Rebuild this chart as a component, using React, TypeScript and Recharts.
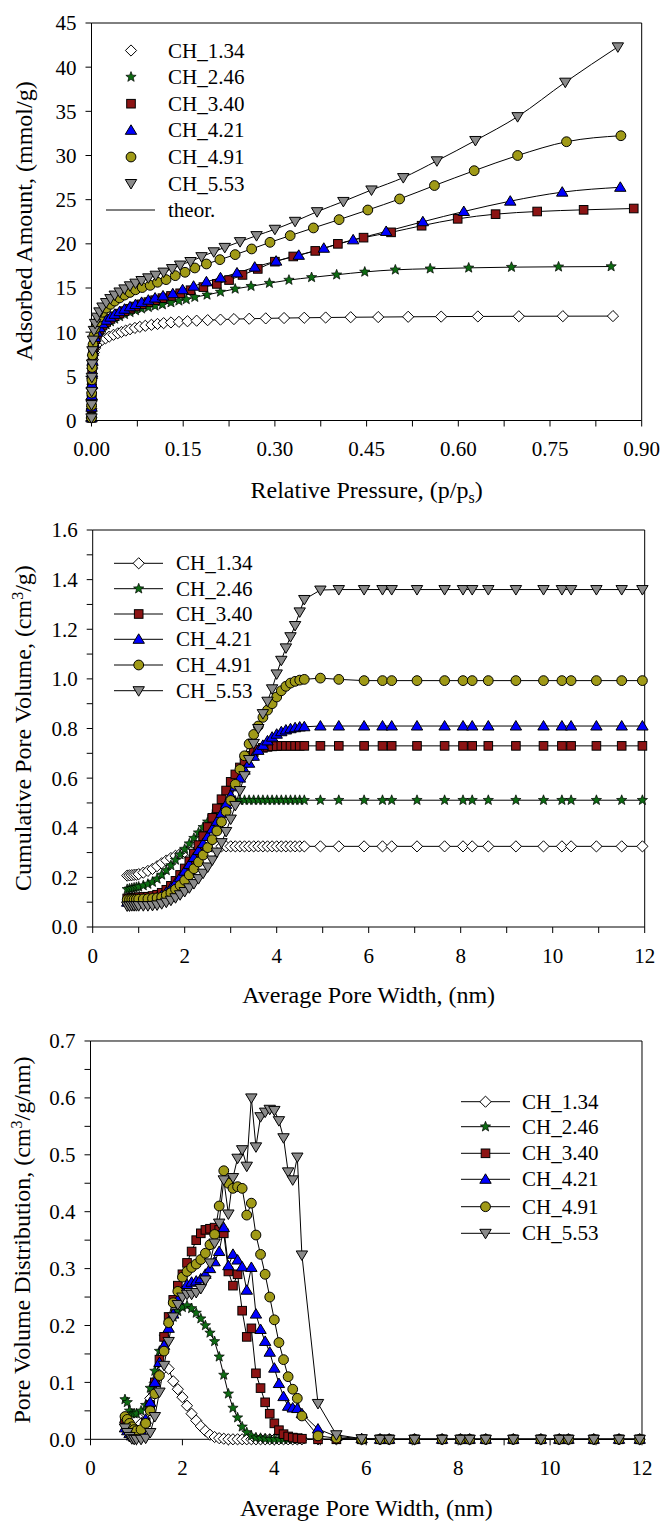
import React from 'react';
import { ComposedChart, Line, XAxis, YAxis } from 'recharts';

const FONT = '"Liberation Serif", "Times New Roman", serif';
const W = 664;

const seriesNames = ['CH_1.34', 'CH_2.46', 'CH_3.40', 'CH_4.21', 'CH_4.91', 'CH_5.53'];

// adsorption isotherms, [relative pressure, adsorbed amount mmol/g]
const iso134: [number, number][] = [
  [0, 0.3], [0.0001, 1.3], [0.0003, 2.4], [0.0006, 3.6], [0.001, 4.8], [0.0016, 5.9], [0.0025, 6.9],
  [0.004, 7.7], [0.006, 8.2], [0.009, 8.6], [0.013, 8.9], [0.018, 9.15], [0.023, 9.3], [0.029, 9.5],
  [0.036, 9.7], [0.043, 9.87], [0.049, 10.02], [0.056, 10.18], [0.063, 10.33], [0.071, 10.48],
  [0.079, 10.6], [0.088, 10.72], [0.098, 10.83], [0.108, 10.93], [0.118, 11.02], [0.13, 11.1],
  [0.143, 11.17], [0.157, 11.24], [0.172, 11.3], [0.19, 11.36], [0.211, 11.42], [0.233, 11.48],
  [0.258, 11.52], [0.285, 11.56], [0.315, 11.6], [0.348, 11.63], [0.383, 11.66], [0.424, 11.69],
  [0.469, 11.71], [0.518, 11.74], [0.572, 11.76], [0.632, 11.78], [0.699, 11.8], [0.771, 11.81],
  [0.853, 11.82],
];
const iso246: [number, number][] = [
  [0, 0.3], [0.0001, 1.4], [0.0003, 2.6], [0.0006, 3.9], [0.001, 5.1], [0.0016, 6.3], [0.0025, 7.4],
  [0.004, 8.3], [0.006, 9.0], [0.009, 9.6], [0.013, 10.1], [0.018, 10.5], [0.024, 10.85],
  [0.031, 11.2], [0.038, 11.5], [0.046, 11.78], [0.054, 12.02], [0.063, 12.25], [0.072, 12.45],
  [0.082, 12.65], [0.093, 12.82], [0.104, 12.98], [0.116, 13.12], [0.13, 13.35], [0.143, 13.55],
  [0.155, 13.7], [0.169, 13.96], [0.189, 14.22], [0.211, 14.55], [0.235, 14.9], [0.261, 15.2],
  [0.291, 15.55], [0.323, 15.9], [0.36, 16.2], [0.401, 16.5], [0.447, 16.82], [0.497, 17.06],
  [0.554, 17.18], [0.617, 17.28], [0.687, 17.36], [0.764, 17.4], [0.85, 17.43],
];
const iso340: [number, number][] = [
  [0, 0.3], [0.0001, 1.4], [0.0003, 2.7], [0.0006, 4.0], [0.001, 5.3], [0.0016, 6.5], [0.0025, 7.6],
  [0.004, 8.5], [0.006, 9.2], [0.009, 9.8], [0.013, 10.3], [0.018, 10.75], [0.024, 11.15],
  [0.031, 11.5], [0.038, 11.8], [0.046, 12.1], [0.054, 12.38], [0.063, 12.65], [0.072, 12.9],
  [0.082, 13.15], [0.093, 13.4], [0.104, 13.62], [0.116, 13.85], [0.13, 14.1], [0.145, 14.4],
  [0.162, 14.75], [0.183, 15.1], [0.205, 15.46], [0.225, 15.9], [0.247, 16.48], [0.272, 17.16],
  [0.3, 17.98], [0.33, 18.57], [0.366, 19.2], [0.403, 20.0], [0.445, 20.7], [0.49, 21.3],
  [0.54, 22.05], [0.599, 22.83], [0.661, 23.36], [0.729, 23.66], [0.805, 23.85], [0.887, 24.0],
];
const iso421: [number, number][] = [
  [0, 0.3], [0.0001, 1.5], [0.0003, 2.8], [0.0006, 4.1], [0.001, 5.4], [0.0016, 6.7], [0.0025, 7.8],
  [0.004, 8.7], [0.006, 9.4], [0.009, 10.0], [0.013, 10.5], [0.018, 10.95], [0.024, 11.35],
  [0.031, 11.7], [0.038, 12.02], [0.046, 12.32], [0.054, 12.6], [0.063, 12.87], [0.072, 13.12],
  [0.082, 13.37], [0.093, 13.62], [0.104, 13.86], [0.117, 14.1], [0.133, 14.35], [0.149, 14.8],
  [0.167, 15.2], [0.188, 15.7], [0.211, 16.15], [0.238, 16.7], [0.267, 17.36], [0.302, 18.04],
  [0.339, 18.7], [0.38, 19.5], [0.428, 20.45], [0.482, 21.4], [0.542, 22.5], [0.609, 23.66],
  [0.685, 24.83], [0.77, 25.85], [0.865, 26.4],
];
const iso491: [number, number][] = [
  [0, 0.3], [0.0001, 1.7], [0.0003, 3.1], [0.0006, 4.6], [0.001, 6.0], [0.0016, 7.4], [0.0025, 8.6],
  [0.004, 9.6], [0.006, 10.4], [0.009, 11.1], [0.013, 11.7], [0.018, 12.25], [0.024, 12.72],
  [0.031, 13.15], [0.038, 13.52], [0.046, 13.88], [0.054, 14.2], [0.063, 14.5], [0.072, 14.8],
  [0.083, 15.05], [0.096, 15.3], [0.108, 15.65], [0.122, 15.95], [0.137, 16.4], [0.153, 16.78],
  [0.169, 17.27], [0.188, 17.72], [0.21, 18.21], [0.235, 18.78], [0.262, 19.42], [0.292, 20.17],
  [0.325, 20.93], [0.363, 21.8], [0.405, 22.74], [0.452, 23.83], [0.504, 25.08], [0.561, 26.6],
  [0.626, 28.28], [0.697, 30.0], [0.777, 31.56], [0.866, 32.24],
];
const iso553: [number, number][] = [
  [0, 0.3], [0.0001, 1.8], [0.0003, 3.3], [0.0006, 4.9], [0.001, 6.4], [0.0016, 7.9], [0.0025, 9.1],
  [0.004, 10.2], [0.006, 11.0], [0.009, 11.7], [0.013, 12.3], [0.018, 12.85], [0.024, 13.35],
  [0.031, 13.8], [0.038, 14.2], [0.046, 14.55], [0.054, 14.9], [0.063, 15.25], [0.072, 15.55],
  [0.082, 15.85], [0.093, 16.15], [0.105, 16.45], [0.118, 16.8], [0.132, 17.2], [0.145, 17.6],
  [0.162, 18.0], [0.18, 18.55], [0.2, 19.1], [0.218, 19.6], [0.243, 20.25], [0.27, 20.93],
  [0.3, 21.65], [0.333, 22.55], [0.369, 23.64], [0.412, 24.8], [0.458, 26.1], [0.51, 27.5],
  [0.565, 29.4], [0.628, 31.7], [0.697, 34.4], [0.775, 38.3], [0.861, 42.3],
];

// pore width grid (nm) shared by the cumulative volume and distribution curves
const poreWidth = [
  0.75, 0.8, 0.85, 0.9, 0.95, 1.0,
  1.1, 1.2, 1.3, 1.4, 1.5, 1.6, 1.7, 1.8, 1.9, 2.0,
  2.1, 2.2, 2.3, 2.4, 2.5, 2.6, 2.7, 2.8, 2.9, 3.0,
  3.1, 3.2, 3.3, 3.4, 3.5, 3.6, 3.7, 3.8, 3.9, 4.0,
  4.1, 4.2, 4.3, 4.4, 4.5, 4.6,
  4.95, 5.35, 5.9, 6.3, 6.5, 7.05, 7.65, 8.05, 8.25, 8.6, 9.2, 9.8, 10.2, 10.4, 10.95, 11.5, 11.95,
];

// cumulative pore volume, cm3/g
const cum134 = [
  0.207, 0.208, 0.209, 0.21, 0.211, 0.213,
  0.219, 0.226, 0.234, 0.245, 0.257, 0.268, 0.278, 0.287, 0.295, 0.302,
  0.309, 0.314, 0.318, 0.321, 0.323, 0.324, 0.325, 0.325, 0.325, 0.325,
  0.325, 0.325, 0.325, 0.325, 0.325, 0.325, 0.325, 0.325, 0.325, 0.325,
  0.325, 0.325, 0.325, 0.325, 0.325, 0.325,
  0.325, 0.325, 0.325, 0.325, 0.325, 0.325, 0.325, 0.325, 0.325, 0.325, 0.325, 0.325, 0.325, 0.325, 0.325, 0.325, 0.325,
];
const cum246 = [
  0.152, 0.154, 0.156, 0.158, 0.16, 0.162,
  0.167, 0.173, 0.181, 0.194, 0.21, 0.228, 0.248, 0.27, 0.292, 0.314,
  0.336, 0.358, 0.38, 0.402, 0.424, 0.445, 0.464, 0.481, 0.494, 0.503,
  0.508, 0.51, 0.511, 0.511, 0.511, 0.511, 0.511, 0.511, 0.511, 0.511,
  0.511, 0.511, 0.511, 0.511, 0.511, 0.511,
  0.511, 0.511, 0.511, 0.511, 0.511, 0.511, 0.511, 0.511, 0.511, 0.511, 0.511, 0.511, 0.511, 0.511, 0.511, 0.511, 0.511,
];
const cum340 = [
  0.115, 0.116, 0.117, 0.118, 0.119, 0.12,
  0.121, 0.122, 0.125, 0.13, 0.138, 0.15, 0.166, 0.186, 0.21, 0.236,
  0.265, 0.296, 0.33, 0.366, 0.403, 0.44, 0.478, 0.515, 0.55, 0.585,
  0.615, 0.643, 0.668, 0.69, 0.705, 0.715, 0.722, 0.726, 0.728, 0.729,
  0.73, 0.73, 0.73, 0.73, 0.73, 0.73,
  0.73, 0.73, 0.73, 0.73, 0.73, 0.73, 0.73, 0.73, 0.73, 0.73, 0.73, 0.73, 0.73, 0.73, 0.73, 0.73, 0.73,
];
const cum421 = [
  0.1, 0.101, 0.101, 0.102, 0.102, 0.103,
  0.104, 0.106, 0.11, 0.117, 0.127, 0.14, 0.157, 0.177, 0.2, 0.225,
  0.252, 0.28, 0.308, 0.336, 0.365, 0.395, 0.426, 0.458, 0.494, 0.53,
  0.565, 0.6, 0.632, 0.66, 0.688, 0.712, 0.732, 0.75, 0.765, 0.777,
  0.787, 0.794, 0.799, 0.803, 0.806, 0.807,
  0.81, 0.81, 0.81, 0.81, 0.81, 0.81, 0.81, 0.81, 0.81, 0.81, 0.81, 0.81, 0.81, 0.81, 0.81, 0.81, 0.81,
];
const cum491 = [
  0.11, 0.11, 0.111, 0.111, 0.112, 0.112,
  0.113, 0.114, 0.115, 0.117, 0.12, 0.128, 0.138, 0.152, 0.168, 0.188,
  0.21, 0.235, 0.262, 0.29, 0.32, 0.352, 0.387, 0.424, 0.465, 0.51,
  0.575, 0.635, 0.69, 0.738, 0.776, 0.81, 0.845, 0.874, 0.9, 0.927,
  0.952, 0.97, 0.983, 0.99, 0.995, 0.998,
  1.003, 0.998, 0.993, 0.993, 0.993, 0.993, 0.993, 0.993, 0.993, 0.993, 0.993, 0.993, 0.993, 0.993, 0.993, 0.993, 0.993,
];
const cum553 = [
  0.085, 0.085, 0.086, 0.086, 0.086, 0.086,
  0.086, 0.086, 0.087, 0.089, 0.094, 0.1, 0.108, 0.118, 0.13, 0.143,
  0.158, 0.175, 0.195, 0.217, 0.242, 0.27, 0.302, 0.34, 0.385, 0.435,
  0.49, 0.55, 0.61, 0.675, 0.74, 0.8, 0.86, 0.91, 0.96, 1.02,
  1.075, 1.125, 1.17, 1.215, 1.27, 1.32,
  1.358, 1.36, 1.36, 1.36, 1.36, 1.36, 1.36, 1.36, 1.36, 1.36, 1.36, 1.36, 1.36, 1.36, 1.36, 1.36, 1.36,
];

// pore volume distribution, cm3/g/nm
const psd134 = [
  0.03, 0.025, 0.018, 0.012, 0.012, 0.015,
  0.028, 0.045, 0.072, 0.1, 0.118, 0.125, 0.124, 0.102, 0.088, 0.074,
  0.059, 0.045, 0.033, 0.023, 0.015, 0.008, 0.004, 0.002, 0.001, 0,
  0, 0, 0, 0, 0, 0, 0, 0, 0, 0,
  0, 0, 0, 0, 0, 0,
  0, 0, 0, 0, 0, 0, 0, 0, 0, 0, 0, 0, 0, 0, 0, 0, 0,
];
const psd246 = [
  0.07, 0.065, 0.05, 0.045, 0.045, 0.045,
  0.05, 0.06, 0.09, 0.12, 0.155, 0.18, 0.2, 0.215, 0.225, 0.232,
  0.235, 0.23, 0.222, 0.212, 0.2, 0.187, 0.172, 0.145, 0.113, 0.08,
  0.055, 0.038, 0.022, 0.012, 0.006, 0.003, 0.002, 0.001, 0, 0,
  0, 0, 0, 0, 0, 0,
  0, 0, 0, 0, 0, 0, 0, 0, 0, 0, 0, 0, 0, 0, 0, 0, 0,
];
const psd340 = [
  0.035, 0.03, 0.02, 0.012, 0.008, 0.006,
  0.01, 0.03, 0.06, 0.1, 0.14, 0.18, 0.215, 0.245, 0.27, 0.29,
  0.31, 0.33, 0.35, 0.362, 0.368, 0.37, 0.372, 0.368, 0.362, 0.295,
  0.27, 0.29, 0.226, 0.18, 0.195, 0.116, 0.09, 0.065, 0.045, 0.028,
  0.016, 0.009, 0.005, 0.003, 0.002, 0.001,
  0, 0, 0, 0, 0, 0, 0, 0, 0, 0, 0, 0, 0, 0, 0, 0, 0,
];
const psd421 = [
  0.02, 0.015, 0.01, 0.006, 0.004, 0.005,
  0.015, 0.035, 0.065, 0.1, 0.135, 0.165, 0.195, 0.22, 0.245, 0.26,
  0.272, 0.276, 0.278, 0.282, 0.29, 0.3, 0.312, 0.33, 0.372, 0.305,
  0.325, 0.315, 0.303, 0.262, 0.302, 0.22, 0.193, 0.172, 0.153, 0.125,
  0.098, 0.075, 0.058, 0.055, 0.054, 0.045,
  0.018, 0.005, 0.001, 0, 0, 0, 0, 0, 0, 0, 0, 0, 0, 0, 0, 0, 0,
];
const psd491 = [
  0.04, 0.035, 0.028, 0.022, 0.017, 0.015,
  0.017, 0.028, 0.05, 0.08, 0.112, 0.155, 0.205, 0.24, 0.26, 0.285,
  0.295, 0.302, 0.308, 0.316, 0.327, 0.342, 0.36, 0.41, 0.472, 0.45,
  0.441, 0.444, 0.441, 0.394, 0.415, 0.359, 0.325, 0.29, 0.25, 0.21,
  0.17, 0.14, 0.11, 0.088, 0.072, 0.041,
  0.006, 0.002, 0, 0, 0, 0, 0, 0, 0, 0, 0, 0, 0, 0, 0, 0, 0,
];
const psd553 = [
  0.02, 0.012, 0.005, 0.001, 0, 0,
  0, 0.002, 0.012, 0.04, 0.083, 0.13, 0.172, 0.215, 0.237, 0.25,
  0.255, 0.255, 0.258, 0.265, 0.28, 0.31, 0.345, 0.38, 0.456, 0.396,
  0.46, 0.494, 0.509, 0.48, 0.6, 0.514, 0.567, 0.575, 0.58, 0.578,
  0.56, 0.53, 0.47, 0.456, 0.496, 0.324,
  0.063, 0.008, 0.001, 0, 0, 0, 0, 0, 0, 0, 0, 0, 0, 0, 0, 0, 0,
];

// tick positions
const pressureTicks = [0, 0.075, 0.15, 0.225, 0.3, 0.375, 0.45, 0.525, 0.6, 0.675, 0.75, 0.825, 0.9];
const amountTicks = [0, 5, 10, 15, 20, 25, 30, 35, 40, 45];
const widthTicks = [0, 1, 2, 3, 4, 5, 6, 7, 8, 9, 10, 11, 12];
const cumTicks = [0, 0.1, 0.2, 0.3, 0.4, 0.5, 0.6, 0.7, 0.8, 0.9, 1.0, 1.1, 1.2, 1.3, 1.4, 1.5, 1.6];
const psdTicks = [0, 0.05, 0.1, 0.15, 0.2, 0.25, 0.3, 0.35, 0.4, 0.45, 0.5, 0.55, 0.6, 0.65, 0.7];

type Shape = 'diamond' | 'star' | 'square' | 'triUp' | 'circle' | 'triDown';
const markerStyle: { shape: Shape; fill: string }[] = [
  { shape: 'diamond', fill: '#ffffff' },
  { shape: 'star', fill: '#0d6b12' },
  { shape: 'square', fill: '#8c1414' },
  { shape: 'triUp', fill: '#0000ff' },
  { shape: 'circle', fill: '#a09a17' },
  { shape: 'triDown', fill: '#8a8a8a' },
];

function Marker({ shape, fill, cx, cy }: { shape: Shape; fill: string; cx: number; cy: number }) {
  const st = { fill, stroke: '#000', strokeWidth: 1 };
  if (cx == null || cy == null) return null;
  switch (shape) {
    case 'diamond':
      return <path d={`M${cx},${cy - 5.6}L${cx + 5.6},${cy}L${cx},${cy + 5.6}L${cx - 5.6},${cy}Z`} {...st} />;
    case 'square':
      return <rect x={cx - 4.3} y={cy - 4.3} width={8.6} height={8.6} {...st} />;
    case 'circle':
      return <circle cx={cx} cy={cy} r={4.9} {...st} />;
    case 'triUp':
      return <path d={`M${cx},${cy - 5.5}L${cx + 5.7},${cy + 4}L${cx - 5.7},${cy + 4}Z`} {...st} />;
    case 'triDown':
      return <path d={`M${cx - 5.7},${cy - 4}L${cx + 5.7},${cy - 4}L${cx},${cy + 5.5}Z`} {...st} />;
    default: {
      let d = '';
      for (let i = 0; i < 10; i++) {
        const r = i % 2 === 0 ? 5.4 : 2.3;
        const a = -Math.PI / 2 + (i * Math.PI) / 5;
        d += `${i === 0 ? 'M' : 'L'}${cx + r * Math.cos(a)},${cy + r * Math.sin(a)}`;
      }
      return <path d={d + 'Z'} fill={fill} stroke="#000" strokeWidth={0.7} />;
    }
  }
}

type Box = { left: number; right: number; top: number; bottom: number };
type Pt = { x: number; y: number };

const tickFont = { fill: '#000', fontSize: 21, fontFamily: FONT };

function Panel(props: {
  box: Box;
  xDomain: [number, number];
  yDomain: [number, number];
  xTicks: number[];
  yTicks: number[];
  xFmt: (v: number) => string;
  yFmt: (v: number) => string;
  series: Pt[][];
  curve: 'monotone' | 'linear';
}) {
  const { box, xDomain, yDomain, xTicks, yTicks, xFmt, yFmt, series, curve } = props;
  const padTop = 12;
  const axisW = 70;
  const axisH = 50;
  const plotH = box.bottom - box.top;
  const height = padTop + plotH + axisH + 6;
  return (
    <div style={{ position: 'absolute', left: 0, top: box.top - padTop }}>
      <ComposedChart
        width={W}
        height={height}
        margin={{ top: padTop - 1, right: W - box.right - 1, bottom: 6, left: box.left - axisW }}
      >
        <XAxis
          xAxisId="b"
          type="number"
          dataKey="x"
          domain={xDomain}
          ticks={xTicks}
          interval={0}
          tickFormatter={xFmt}
          height={axisH}
          tickSize={6}
          tickMargin={15}
          stroke="#000"
          tick={tickFont}
        />
        <XAxis
          xAxisId="t"
          orientation="top"
          type="number"
          dataKey="x"
          domain={xDomain}
          ticks={xTicks}
          interval={0}
          height={1}
          tickSize={-6}
          tick={false}
          stroke="#000"
        />
        <YAxis
          yAxisId="l"
          type="number"
          domain={yDomain}
          ticks={yTicks}
          interval={0}
          tickFormatter={yFmt}
          width={axisW}
          tickSize={6}
          tickMargin={9}
          stroke="#000"
          tick={tickFont}
        />
        <YAxis
          yAxisId="r"
          orientation="right"
          type="number"
          domain={yDomain}
          ticks={yTicks}
          interval={0}
          width={1}
          tickSize={-6}
          tick={false}
          stroke="#000"
        />
        {series.map((data, i) => (
          <Line
            key={seriesNames[i]}
            xAxisId="b"
            yAxisId="l"
            data={data}
            dataKey="y"
            type={curve}
            stroke="#000"
            strokeWidth={1}
            activeDot={false}
            isAnimationActive={false}
            dot={(p: any) => (
              <Marker
                key={`m-${i}-${p.index}`}
                shape={markerStyle[i].shape}
                fill={markerStyle[i].fill}
                cx={p.cx}
                cy={p.cy}
              />
            )}
          />
        ))}
      </ComposedChart>
    </div>
  );
}

function Title({ cx, cy, vertical, children }: { cx: number; cy: number; vertical?: boolean; children: React.ReactNode }) {
  return (
    <div
      style={{
        position: 'absolute',
        left: cx - 250,
        top: cy - 14,
        width: 500,
        height: 28,
        lineHeight: '28px',
        fontSize: 24,
        fontFamily: FONT,
        textAlign: 'center',
        whiteSpace: 'nowrap',
        color: '#000',
        transform: vertical ? 'rotate(-90deg)' : undefined,
      }}
    >
      {children}
    </div>
  );
}

function LegendText({ x, y, text }: { x: number; y: number; text: string }) {
  return (
    <div
      style={{
        position: 'absolute',
        left: x,
        top: y - 12,
        height: 24,
        lineHeight: '24px',
        fontSize: 21,
        fontFamily: FONT,
        whiteSpace: 'nowrap',
        color: '#000',
      }}
    >
      {text}
    </div>
  );
}

const toPts = (arr: [number, number][]) => arr.map(([x, y]) => ({ x, y }));
const onGrid = (vals: number[]) => poreWidth.map((x, i) => ({ x, y: vals[i] }));
const near = (v: number, step: number) => Math.abs(v / step - Math.round(v / step)) < 1e-6;

const box1: Box = { left: 91.5, right: 641.7, top: 22.5, bottom: 420 };
const box2: Box = { left: 92.7, right: 644.7, top: 529.7, bottom: 926.7 };
const box3: Box = { left: 90.5, right: 642, top: 1041, bottom: 1439.3 };

const leg1Rows = [50.5, 77, 103.7, 130.3, 157, 183.5];
const leg2Rows = [563.3, 588.7, 614, 639.3, 665, 690.7];
const leg3Rows = [1101.7, 1126.7, 1153.3, 1179.3, 1206.7, 1233.3];

export default function App() {
  const isoSeries = [iso134, iso246, iso340, iso421, iso491, iso553].map(toPts);
  const cumSeries = [cum134, cum246, cum340, cum421, cum491, cum553].map(onGrid);
  const psdSeries = [psd134, psd246, psd340, psd421, psd491, psd553].map(onGrid);

  return (
    <div style={{ position: 'absolute', left: 0, top: 0, width: W, height: 1522, background: '#fff', overflow: 'hidden' }}>
      <Panel
        box={box1}
        xDomain={[0, 0.9]}
        yDomain={[0, 45]}
        xTicks={pressureTicks}
        yTicks={amountTicks}
        xFmt={(v) => (near(v, 0.15) ? v.toFixed(2) : '')}
        yFmt={(v) => String(v)}
        series={isoSeries}
        curve="monotone"
      />
      <Panel
        box={box2}
        xDomain={[0, 12]}
        yDomain={[0, 1.6]}
        xTicks={widthTicks}
        yTicks={cumTicks}
        xFmt={(v) => (near(v, 2) ? String(v) : '')}
        yFmt={(v) => (near(v, 0.2) ? v.toFixed(1) : '')}
        series={cumSeries}
        curve="linear"
      />
      <Panel
        box={box3}
        xDomain={[0, 12]}
        yDomain={[0, 0.7]}
        xTicks={widthTicks}
        yTicks={psdTicks}
        xFmt={(v) => (near(v, 2) ? String(v) : '')}
        yFmt={(v) => (near(v, 0.1) ? v.toFixed(1) : '')}
        series={psdSeries}
        curve="linear"
      />

      {/* legend symbols */}
      <svg width={W} height={1522} style={{ position: 'absolute', left: 0, top: 0, pointerEvents: 'none' }}>
        {leg1Rows.map((y, i) => (
          <Marker key={`l1-${i}`} shape={markerStyle[i].shape} fill={markerStyle[i].fill} cx={131} cy={y} />
        ))}
        <line x1={106} x2={155} y1={210} y2={210} stroke="#000" strokeWidth={1} />
        {leg2Rows.map((y, i) => (
          <g key={`l2-${i}`}>
            <line x1={114} x2={163} y1={y} y2={y} stroke="#000" strokeWidth={1} />
            <Marker shape={markerStyle[i].shape} fill={markerStyle[i].fill} cx={138.7} cy={y} />
          </g>
        ))}
        {leg3Rows.map((y, i) => (
          <g key={`l3-${i}`}>
            <line x1={461} x2={510} y1={y} y2={y} stroke="#000" strokeWidth={1} />
            <Marker shape={markerStyle[i].shape} fill={markerStyle[i].fill} cx={485.5} cy={y} />
          </g>
        ))}
      </svg>

      {leg1Rows.map((y, i) => <LegendText key={`t1-${i}`} x={168} y={y} text={seriesNames[i]} />)}
      <LegendText x={168} y={210} text="theor." />
      {leg2Rows.map((y, i) => <LegendText key={`t2-${i}`} x={176} y={y} text={seriesNames[i]} />)}
      {leg3Rows.map((y, i) => <LegendText key={`t3-${i}`} x={522} y={y} text={seriesNames[i]} />)}

      <Title cx={366.6} cy={489.5}>
        Relative Pressure, (p/p<span style={{ fontSize: 16, position: 'relative', top: 5 }}>s</span>)
      </Title>
      <Title cx={24} cy={221} vertical>Adsorbed Amount, (mmol/g)</Title>
      <Title cx={368.7} cy={994.5}>Average Pore Width, (nm)</Title>
      <Title cx={23} cy={728} vertical>
        Cumulative Pore Volume, (cm<span style={{ fontSize: 16, position: 'relative', top: -8 }}>3</span>/g)
      </Title>
      <Title cx={366.3} cy={1507.5}>Average Pore Width, (nm)</Title>
      <Title cx={22} cy={1240} vertical>
        Pore Volume Distribution, (cm<span style={{ fontSize: 16, position: 'relative', top: -8 }}>3</span>/g/nm)
      </Title>
    </div>
  );
}
